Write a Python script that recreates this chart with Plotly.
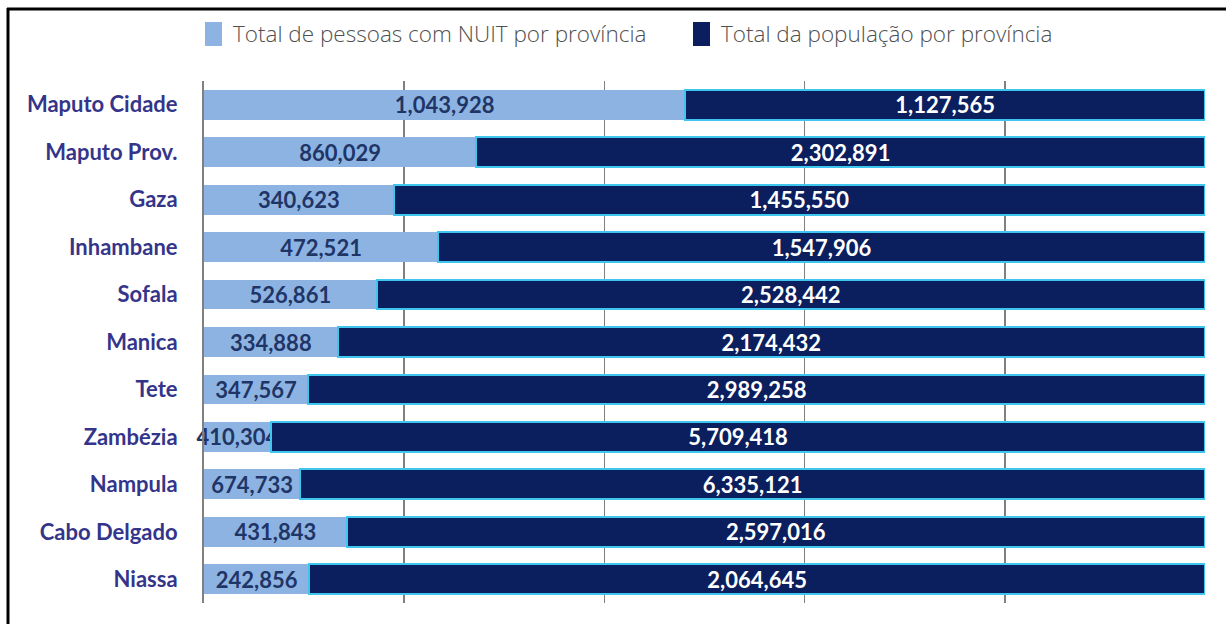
import plotly.graph_objects as go

provinces = ["Maputo Cidade", "Maputo Prov.", "Gaza", "Inhambane", "Sofala", "Manica",
             "Tete", "Zambézia", "Nampula", "Cabo Delgado", "Niassa"]
nuit = [1043928, 860029, 340623, 472521, 526861, 334888, 347567, 410304, 674733, 431843, 242856]
population = [1127565, 2302891, 1455550, 1547906, 2528442, 2174432, 2989258, 5709418, 6335121, 2597016, 2064645]
series_names = ["Total de pessoas com NUIT por província", "Total da população por província"]
series_colors = ["#8db3e2", "#0b1f5e"]

W, H = 1226, 624
L, T = 204, 81
R = W - 1205
B = H - 603
pw, ph = W - L - R, H - T - B

def px_x(p):  # page pixel -> paper
    return (p - L) / pw

def px_y(p):
    return (H - B - p) / ph

fig = go.Figure()
fig.add_trace(go.Bar(
    y=provinces, x=nuit, orientation="h", name=series_names[0],
    marker=dict(color=series_colors[0], line=dict(width=0)),
    text=[f"{v:,}" for v in nuit], textposition="inside", insidetextanchor="middle",
    constraintext="none", textangle=0, cliponaxis=False,
    textfont=dict(family="Lato", size=22, color="#1f3566", weight="bold"),
    showlegend=False, hoverinfo="skip"))
fig.add_trace(go.Bar(
    y=provinces, x=population, orientation="h", name=series_names[1],
    marker=dict(color=series_colors[1], line=dict(width=2, color="#3ec6ef")),
    text=[f"{v:,}" for v in population], textposition="inside", insidetextanchor="middle",
    constraintext="none", textangle=0,
    textfont=dict(family="Lato", size=22, color="white", weight="bold"),
    showlegend=False, hoverinfo="skip"))

# manual legend
legend_x = [205, 693]
text_x = [231, 719]
shapes = []
annotations = []
for name, col, sx, tx in zip(series_names, series_colors, legend_x, text_x):
    shapes.append(dict(type="rect", xref="paper", yref="paper",
                       x0=px_x(sx), x1=px_x(sx + 17), y0=px_y(46), y1=px_y(22),
                       fillcolor=col, line=dict(width=0)))
    annotations.append(dict(text=name, xref="paper", yref="paper", x=px_x(tx), y=px_y(34),
                            xanchor="left", yanchor="middle", showarrow=False,
                            font=dict(family="Open Sans", size=22.5, color="#505050", weight=300)))
# outer frame (top and left edges visible)
shapes.append(dict(type="line", xref="paper", yref="paper",
                   x0=px_x(7), x1=px_x(1240), y0=px_y(9), y1=px_y(9),
                   line=dict(color="black", width=3)))
shapes.append(dict(type="line", xref="paper", yref="paper",
                   x0=px_x(8), x1=px_x(8), y0=px_y(8), y1=px_y(640),
                   line=dict(color="black", width=3)))

fig.update_layout(
    width=W, height=H, barmode="stack", barnorm="percent", bargap=0.37,
    margin=dict(l=L, r=R, t=T, b=B),
    paper_bgcolor="white", plot_bgcolor="white",
    shapes=shapes, annotations=annotations,
    xaxis=dict(range=[0, 100.0001], tickvals=[0, 20, 40, 60, 80, 100], showticklabels=False,
               showgrid=True, gridcolor="#808080", gridwidth=1.5, zeroline=False, fixedrange=True),
    yaxis=dict(autorange="reversed", showline=True, linecolor="#808080", linewidth=2,
               ticks="", ticklabelstandoff=20, fixedrange=True,
               tickfont=dict(family="Lato", size=22, color="#34358a", weight="bold")),
)
fig.write_html("out.html", config={"displayModeBar": False, "staticPlot": True},
               post_script="document.body.style.margin='0';document.body.style.overflow='hidden';")
